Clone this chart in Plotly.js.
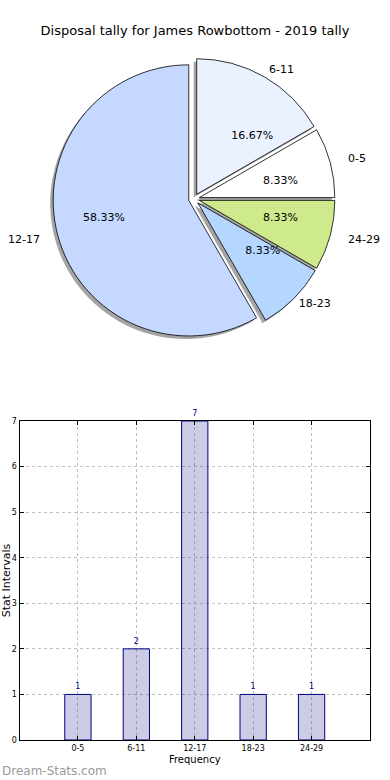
<!DOCTYPE html>
<html>
<head>
<meta charset="utf-8">
<script src="https://cdn.plot.ly/plotly-3.0.1.min.js"></script>
<style>html,body{margin:0;padding:0;background:#fff;}#chart{width:390px;height:780px;}</style>
</head>
<body>
<div id="chart"></div>
<script>
const categories = ['0-5', '6-11', '12-17', '18-23', '24-29'];
const counts = [1, 2, 7, 1, 1];
const sliceColors = ['#ffffff', '#eaf1ff', '#c5d8ff', '#b5d6ff', '#cfea8c'];
const explode = [0.04, 0.04, 0.04, 0.04, 0.04];
const titleText = 'Disposal tally for James Rowbottom - 2019 tally';
const xTitle = 'Frequency';
const yTitle = 'Stat Intervals';
const yTicks = [0, 1, 2, 3, 4, 5, 6, 7];

const W = 390, H = 780;
const font = 'DejaVu Sans, sans-serif';
// pie placement (pixels) converted to paper domain
const pcx = 194, pcy = 199;
function dom(R, ox, oy) {
  return {x: [(pcx + ox - R) / W, (pcx + ox + R) / W], y: [1 - (pcy + oy + R) / H, 1 - (pcy + oy - R) / H]};
}
const pR = 141;          // wedge pie
const pctR = 68;         // pie whose outside text carries the percentages (~0.6 r)
const labR = 156;        // labels of wedges near the horizontal (~1.1 r)
const labRdiag = 143.5;  // labels of the diagonal wedges (reference pie is slightly oval)
const diagonal = ['6-11', '18-23'];

// first wedge starts at 3 o'clock and runs counter-clockwise (plotly places the
// first counter-clockwise wedge on the clockwise side of "rotation")
const startRotation = 90 - 360 * counts[0] / counts.reduce((a, b) => a + b, 0);

const common = {
  type: 'pie', labels: categories, values: counts, sort: false,
  direction: 'counterclockwise', rotation: startRotation, pull: explode,
  hoverinfo: 'skip', showlegend: false, automargin: false
};
const clear = categories.map(() => 'rgba(0,0,0,0)');

const shadow = Object.assign({}, common, {
  domain: dom(pR, -3, 3),
  marker: {colors: categories.map(() => 'rgba(90,90,90,0.55)'), line: {width: 0}},
  textinfo: 'none'
});
const mainPie = Object.assign({}, common, {
  domain: dom(pR, 0, 0),
  marker: {colors: sliceColors, line: {color: '#000', width: 0.8}},
  textinfo: 'none'
});
const pctPie = Object.assign({}, common, {
  domain: dom(pctR, 0, 0),
  marker: {colors: clear, line: {width: 0}},
  texttemplate: '%{percent:.2%}',
  textposition: 'outside',
  outsidetextfont: {family: font, size: 11, color: '#000'}
});
const labelPie = Object.assign({}, common, {
  domain: dom(labR, 0, 0),
  marker: {colors: clear, line: {width: 0}},
  text: categories.map(c => diagonal.includes(c) ? '' : c),
  textinfo: 'text',
  textposition: 'outside',
  outsidetextfont: {family: font, size: 11, color: '#000'}
});
const labelPieDiag = Object.assign({}, common, {
  domain: dom(labRdiag, 0, 0),
  marker: {colors: clear, line: {width: 0}},
  text: categories.map(c => diagonal.includes(c) ? c : ''),
  textinfo: 'text',
  textposition: 'outside',
  outsidetextfont: {family: font, size: 11, color: '#000'}
});

const bars = {
  type: 'bar', x: categories, y: counts, width: 0.45,
  marker: {color: 'rgba(0,0,128,0.2)', line: {color: '#000080', width: 1}},
  text: counts.map(String), textposition: 'outside', cliponaxis: false,
  textfont: {family: font, size: 8, color: '#000080'},
  xaxis: 'x', yaxis: 'y', hoverinfo: 'skip', showlegend: false
};

const layout = {
  width: W, height: H,
  margin: {l: 0, r: 0, t: 0, b: 0},
  paper_bgcolor: '#fff', plot_bgcolor: '#fff',
  font: {family: font, color: '#000'},
  title: {text: titleText, font: {family: font, size: 13, color: '#000'}, x: 0.5, xanchor: 'center', y: 1 - 30 / H, yanchor: 'middle'},
  xaxis: {
    domain: [19.5 / W, 370 / W], range: [-1, 5], type: 'category',
    showline: true, linecolor: '#000', linewidth: 1, mirror: 'ticks',
    ticks: 'inside', ticklen: 4, tickcolor: '#000',
    showgrid: true, gridcolor: '#c0c0c0', griddash: 'dot', gridwidth: 1,
    tickfont: {family: font, size: 8, color: '#000'},
    title: {text: xTitle, font: {family: font, size: 10, color: '#000'}, standoff: 4},
    zeroline: false, fixedrange: true, automargin: false
  },
  yaxis: {
    domain: [1 - 740 / H, 1 - 421 / H], range: [0, 7], tickvals: yTicks,
    showline: true, linecolor: '#000', linewidth: 1, mirror: 'ticks',
    ticks: 'inside', ticklen: 4, tickcolor: '#000',
    showgrid: true, gridcolor: '#c0c0c0', griddash: 'dot', gridwidth: 1,
    tickfont: {family: font, size: 8, color: '#000'},
    title: {text: yTitle, font: {family: font, size: 11, color: '#000'}, standoff: 0},
    zeroline: false, fixedrange: true, automargin: false
  },
  annotations: [{
    text: 'Dream-Stats.com', xref: 'paper', yref: 'paper', x: 0, y: 1 - 771 / H,
    xanchor: 'left', yanchor: 'middle', showarrow: false,
    font: {family: font, size: 12, color: '#9a9a9a'}
  }]
};

Plotly.newPlot('chart', [shadow, mainPie, pctPie, labelPie, labelPieDiag, bars], layout, {displayModeBar: false, staticPlot: true});
</script>
</body>
</html>
